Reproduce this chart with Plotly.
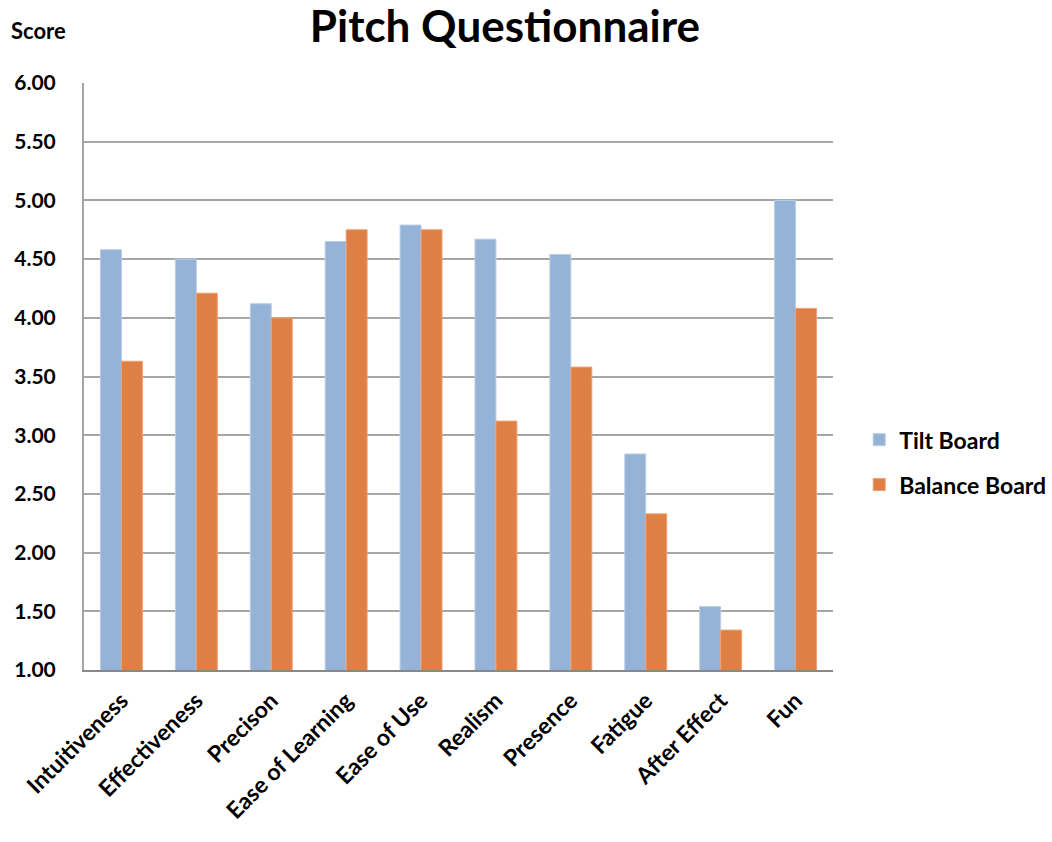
import plotly.graph_objects as go

categories = ["Intuitiveness", "Effectiveness", "Precison", "Ease of Learning", "Ease of Use",
              "Realism", "Presence", "Fatigue", "After Effect", "Fun"]
tilt_board = [4.58, 4.50, 4.12, 4.65, 4.79, 4.67, 4.54, 2.84, 1.54, 5.00]
balance_board = [3.63, 4.21, 4.00, 4.75, 4.75, 3.12, 3.58, 2.33, 1.34, 4.08]
y_ticks = [1.0, 1.5, 2.0, 2.5, 3.0, 3.5, 4.0, 4.5, 5.0, 5.5, 6.0]

FONT = "Lato"

fig = go.Figure()
fig.add_trace(go.Bar(name="Tilt Board", x=categories, y=tilt_board, legendgroup="tilt",
                     marker=dict(color="#95B3D7", line=dict(color="#B9CDE5", width=1))))
fig.add_trace(go.Bar(name="Balance Board", x=categories, y=balance_board, legendgroup="balance",
                     marker=dict(color="#DE8046", line=dict(color="#F0A070", width=1))))

fig.update_layout(
    width=1052, height=842,
    paper_bgcolor="white", plot_bgcolor="white",
    margin=dict(l=84, r=219, t=83, b=172, autoexpand=False),
    barmode="group", bargap=0.44, bargroupgap=0,
    title=dict(text="Pitch Questionnaire", x=0.48, xanchor="center", y=0.968, yanchor="middle",
               font=dict(family=FONT, size=44, color="black", weight="bold")),
    font=dict(family=FONT, color="black"),
    showlegend=True,
    legend=dict(x=1.035, xanchor="left", y=0.354, yanchor="middle",
                font=dict(family=FONT, size=23, color="black", weight="bold"),
                tracegroupgap=12, itemwidth=30),
    annotations=[dict(text="Score", xref="paper", yref="paper", x=-0.1, xanchor="left",
                      y=1.09, yanchor="middle", showarrow=False,
                      font=dict(family=FONT, size=22, color="black", weight="bold"))],
)

fig.update_xaxes(
    showgrid=False, showline=True, linecolor="#888888", linewidth=2,
    tickangle=-45, tickfont=dict(family=FONT, size=23, color="black", weight="bold"),
    ticks="", ticklabelstandoff=6,
)
fig.update_yaxes(
    range=[1, 6], tickvals=y_ticks, tickformat=".2f",
    showgrid=True, gridcolor="#A6A6A6", gridwidth=2,
    showline=True, linecolor="#A6A6A6", linewidth=2,
    zeroline=False, ticks="", ticklabelstandoff=22,
    tickfont=dict(family=FONT, size=21, color="black", weight="bold"),
)

fig.write_html("out.html")
